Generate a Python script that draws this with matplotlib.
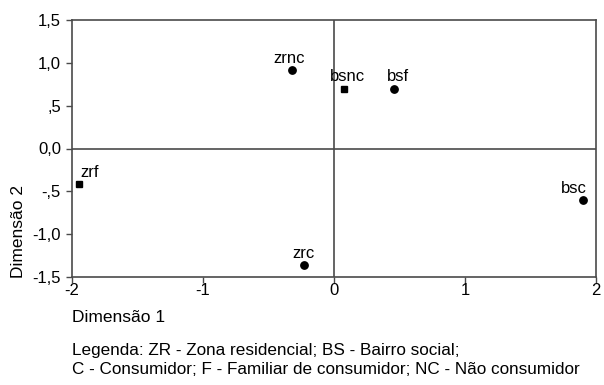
import matplotlib
matplotlib.use("Agg")
import matplotlib.pyplot as plt

plt.rcParams['font.family'] = ['Liberation Sans', 'DejaVu Sans']

# data
names = ['zrnc', 'bsnc', 'bsf', 'bsc', 'zrc', 'zrf']
dim1 = [-0.32, 0.08, 0.46, 1.90, -0.23, -1.95]
dim2 = [0.92, 0.70, 0.70, -0.60, -1.36, -0.42]
is_square = [False, True, False, False, False, True]

x_ticks = [-2, -1, 0, 1, 2]
x_tick_labels = ['-2', '-1', '0', '1', '2']
y_ticks = [1.5, 1.0, 0.5, 0.0, -0.5, -1.0, -1.5]
y_tick_labels = ['1,5', '1,0', ',5', '0,0', '-,5', '-1,0', '-1,5']

legend_lines = ['Legenda: ZR - Zona residencial; BS - Bairro social;',
                'C - Consumidor; F - Familiar de consumidor; NC - Não consumidor']

# label offsets in points (text placed above each marker)
offsets = {'zrnc': (-2, 3, 'center'), 'bsnc': (2, 3, 'center'), 'bsf': (3, 3, 'center'),
           'bsc': (3, 3, 'right'), 'zrc': (0, 3, 'center'), 'zrf': (1, 3, 'left')}

fig = plt.figure(figsize=(6.04, 3.85), dpi=100)
ax = fig.add_axes([72 / 604, 1 - 277 / 385, (596 - 72) / 604, (277 - 20) / 385])

edge = '#4a4a4a'
ax.axhline(0, color=edge, lw=1.2, zorder=1)
ax.axvline(0, color=edge, lw=1.2, zorder=1)

for n, x, y, sq in zip(names, dim1, dim2, is_square):
    ax.plot(x, y, marker='s' if sq else 'o', ms=4.5 if sq else 5.3,
            color='black', ls='none', zorder=3)
    dx, dy, ha = offsets[n]
    ax.annotate(n, (x, y), xytext=(dx, dy), textcoords='offset points',
                ha=ha, va='bottom', fontsize=12, color='black')

ax.set_xlim(-2, 2)
ax.set_ylim(-1.5, 1.5)
ax.set_xticks(x_ticks)
ax.set_xticklabels(x_tick_labels)
ax.set_yticks(y_ticks)
ax.set_yticklabels(y_tick_labels)
ax.tick_params(direction='out', length=4, width=1, color=edge, labelsize=12)
ax.tick_params(axis='x', pad=0)
ax.tick_params(axis='y', pad=4)

for s in ax.spines.values():
    s.set_color(edge)
    s.set_linewidth(1.2)

fig.text(72 / 604, 1 - 317 / 385, 'Dimensão 1', ha='left', va='center', fontsize=12.5)
fig.text(19 / 604, 1 - 278 / 385, 'Dimensão 2', ha='center', va='bottom',
         rotation=90, fontsize=12.5)
fig.text(72 / 604, 1 - 351 / 385, legend_lines[0], ha='left', va='center', fontsize=12.3)
fig.text(72 / 604, 1 - 370 / 385, legend_lines[1], ha='left', va='center', fontsize=12.3)

fig.savefig('out.png', dpi=100)
